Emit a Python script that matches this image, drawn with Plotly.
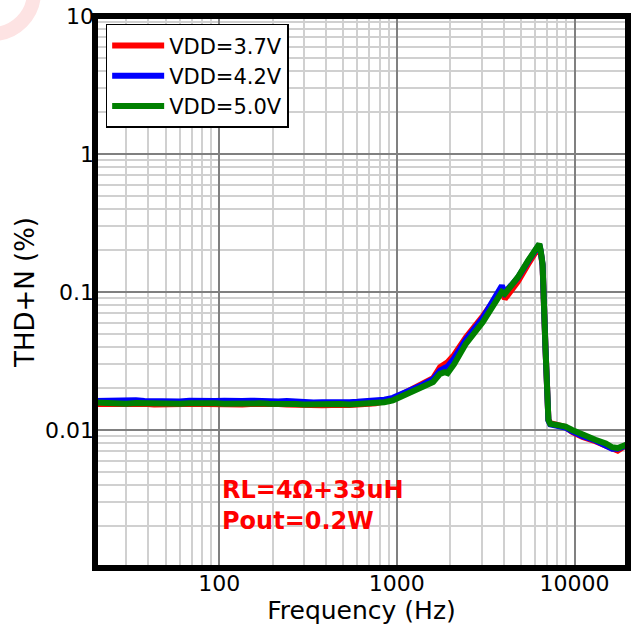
import plotly.graph_objects as go

freq = [20, 23, 26, 30, 34, 38, 43, 48, 54, 60,
        68, 76, 85, 95, 107, 120, 135, 150, 170, 190,
        215, 240, 270, 300, 340, 380, 430, 480, 540, 600,
        680, 760, 850, 950, 1060, 1130, 1250, 1400, 1600, 1750,
        1860, 1930, 2100, 2450, 3050, 3780, 3900, 4050, 4800, 5500,
        6340, 6450, 6610, 6860, 7130, 7300, 8000, 8900, 9700, 11100,
        13100, 15000, 16300, 17500, 19000, 20000]

thd_37 = [0.0154, 0.0155, 0.0153, 0.0156, 0.0154, 0.0155, 0.0153, 0.0154, 0.0155, 0.0153,
          0.0154, 0.0155, 0.0154, 0.0153, 0.0155, 0.0154, 0.0153, 0.0154, 0.0155, 0.0153,
          0.0154, 0.0153, 0.0152, 0.0151, 0.0152, 0.0151, 0.0152, 0.0151, 0.0152, 0.0153,
          0.0154, 0.0156, 0.0161, 0.0168, 0.0180, 0.0188, 0.0198, 0.0212, 0.0238, 0.0285,
          0.0300, 0.0310, 0.0350, 0.0470, 0.0670, 0.0990, 0.1040, 0.0890, 0.119, 0.160,
          0.215, 0.196, 0.155, 0.040, 0.0119, 0.0112, 0.0109, 0.0105, 0.0097, 0.0089,
          0.0083, 0.0077, 0.0072, 0.0071, 0.0076, 0.0078]

thd_42 = [0.0162, 0.0163, 0.0161, 0.0162, 0.0164, 0.0162, 0.0161, 0.0163, 0.0162, 0.0161,
          0.0163, 0.0162, 0.0161, 0.0162, 0.0163, 0.0161, 0.0162, 0.0163, 0.0161, 0.0162,
          0.0161, 0.0162, 0.0160, 0.0159, 0.0158, 0.0159, 0.0158, 0.0160, 0.0159, 0.0160,
          0.0161, 0.0163, 0.0166, 0.0171, 0.0181, 0.0189, 0.0200, 0.0213, 0.0234, 0.0270,
          0.0282, 0.0288, 0.0330, 0.0452, 0.0650, 0.1030, 0.1110, 0.0990, 0.127, 0.168,
          0.221, 0.198, 0.158, 0.040, 0.0117, 0.0110, 0.0107, 0.0104, 0.0098, 0.0090,
          0.0084, 0.0078, 0.0073, 0.0073, 0.0077, 0.0078]

thd_50 = [0.0158, 0.0156, 0.0157, 0.0155, 0.0157, 0.0156, 0.0155, 0.0157, 0.0156, 0.0155,
          0.0156, 0.0157, 0.0155, 0.0156, 0.0155, 0.0156, 0.0157, 0.0155, 0.0156, 0.0155,
          0.0156, 0.0155, 0.0154, 0.0153, 0.0154, 0.0152, 0.0153, 0.0154, 0.0153, 0.0154,
          0.0155, 0.0156, 0.0159, 0.0164, 0.0176, 0.0184, 0.0194, 0.0206, 0.0223, 0.0255,
          0.0262, 0.0258, 0.0300, 0.0423, 0.0605, 0.0944, 0.1000, 0.0970, 0.128, 0.170,
          0.223, 0.200, 0.160, 0.040, 0.0118, 0.0111, 0.0109, 0.0106, 0.0100, 0.0092,
          0.0085, 0.0080, 0.0075, 0.0074, 0.0078, 0.0079]

series_names = ["VDD=3.7V", "VDD=4.2V", "VDD=5.0V"]
series_colors = ["#ff0000", "#0000ff", "#008000"]

x_tickvals = [100, 1000, 10000]
x_ticktext = ["100", "1000", "10000"]
y_tickvals = [0.01, 0.1, 1, 10]
y_ticktext = ["0.01", "0.1", "1", "10"]

x_minor = [m * 10 ** d for d in range(1, 5) for m in range(2, 10) if 20 <= m * 10 ** d <= 20000]
y_minor = [m * 10.0 ** d for d in range(-3, 1) for m in range(2, 10)]

FONT = "DejaVu Sans"

fig = go.Figure()
for name, color, vals in zip(series_names, series_colors, [thd_37, thd_42, thd_50]):
    fig.add_trace(go.Scatter(x=freq, y=vals, mode="lines", name=name,
                             line=dict(color=color, width=6)))

fig.update_layout(
    width=633, height=632,
    margin=dict(l=95, r=5, t=16, b=64),
    paper_bgcolor="white", plot_bgcolor="white",
    font=dict(family=FONT, color="black"),
    showlegend=True,
    legend=dict(x=0.02, y=0.986, xanchor="left", yanchor="top",
                bgcolor="white", bordercolor="black", borderwidth=1.5,
                font=dict(family=FONT, size=21), tracegroupgap=0,
                itemwidth=52),
    annotations=[dict(text="<b>RL=4Ω+33uH<br>Pout=0.2W</b>", xref="paper", yref="paper",
                      x=0.234, y=0.114, xanchor="left", yanchor="middle", align="left",
                      showarrow=False, font=dict(family=FONT, size=24, color="#ff0000"))],
    shapes=[
        dict(type="rect", xref="paper", yref="paper", x0=0, x1=1, y0=0, y1=1,
             line=dict(color="black", width=6), layer="above"),
        dict(type="circle", xref="paper", yref="paper", xsizemode="pixel", ysizemode="pixel",
             xanchor=0, yanchor=1, x0=-145, x1=-61, y0=-18, y1=66,
             line=dict(color="#fde3e3", width=14), layer="below"),
    ],
)

fig.update_xaxes(type="log", range=[1.30103, 4.30103],
                 tickvals=x_tickvals, ticktext=x_ticktext, ticks="",
                 tickfont=dict(family=FONT, size=22),
                 showgrid=True, gridcolor="#808080", gridwidth=1.5,
                 minor=dict(tickvals=x_minor, showgrid=True, gridcolor="#d0d0d0", gridwidth=1.5, ticks=""),
                 title=dict(text="Frequency (Hz)", font=dict(family=FONT, size=25), standoff=6),
                 zeroline=False, showline=False)
fig.update_yaxes(type="log", range=[-3, 1],
                 tickvals=y_tickvals, ticktext=y_ticktext, ticks="",
                 tickfont=dict(family=FONT, size=22),
                 showgrid=True, gridcolor="#808080", gridwidth=1.5,
                 minor=dict(tickvals=y_minor, showgrid=True, gridcolor="#d0d0d0", gridwidth=1.5, ticks=""),
                 title=dict(text="THD+N (%)", font=dict(family=FONT, size=26), standoff=2),
                 zeroline=False, showline=False)

fig.write_html("out.html")
